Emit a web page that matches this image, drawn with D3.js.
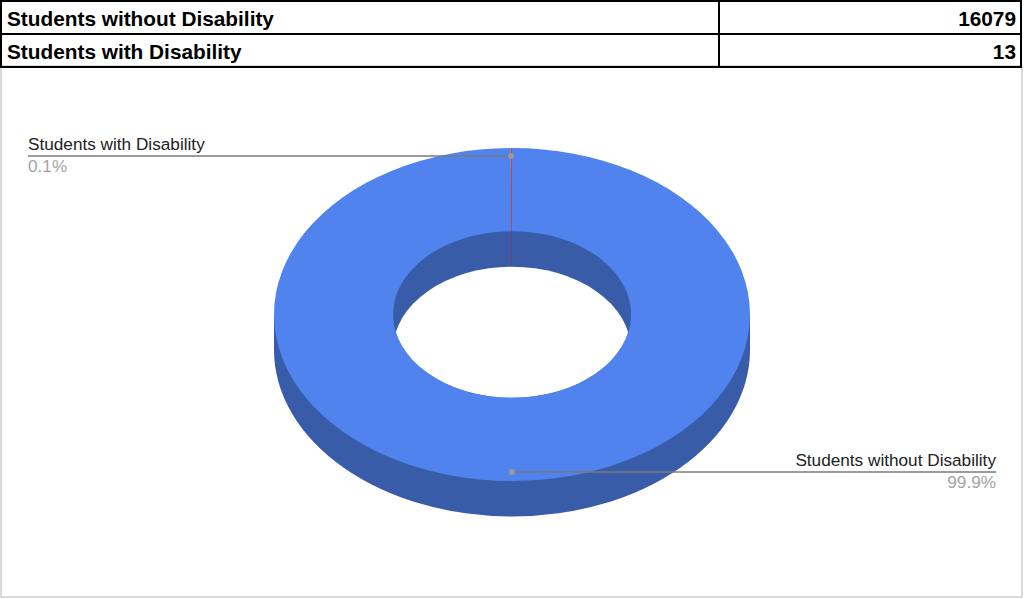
<!DOCTYPE html>
<html><head><meta charset="utf-8">
<script src="https://cdn.jsdelivr.net/npm/d3@7"></script>
<style>html,body{margin:0;padding:0;background:#fff}svg{display:block;font-family:"Liberation Sans",Arial,sans-serif}</style>
</head><body><svg id="c" width="1024" height="599"></svg>
<script>
const categories = ["Students without Disability", "Students with Disability"];
const values = [16079, 13];
const sliceColors = ["#5083ee", "#d0453a"];
const wallColors = ["#395ca8", "#8c3a40"];

const svg = d3.select("#c");
const cx = 512, cy = 314.5, rx = 238, rxInner = 119, squash = 166.5 / 238, depth = 35.5;

// chart frame
svg.append("rect").attr("x", 1).attr("y", 66).attr("width", 1021).attr("height", 531)
  .attr("fill", "#fff").attr("stroke", "#b5b5b5").attr("stroke-width", 1);

// pie layout
const pie = d3.pie().sort(null).startAngle(0).endAngle(2 * Math.PI);
const arcs = pie(values);
const total = d3.sum(values);
const ring = d3.arc().innerRadius(rxInner).outerRadius(rx);
const disc = d3.arc().innerRadius(0).outerRadius(rx).startAngle(0).endAngle(2 * Math.PI);
const holeArc = d3.arc().innerRadius(0).outerRadius(rxInner).startAngle(0).endAngle(2 * Math.PI);
const place = dy => `translate(${cx},${cy + dy}) scale(1,${squash})`;

const defs = svg.append("defs");
defs.append("clipPath").attr("id", "holeClip").append("path").attr("d", holeArc()).attr("transform", place(0));

// walls
svg.append("rect").attr("x", cx - rx).attr("y", cy).attr("width", 2 * rx).attr("height", depth).attr("fill", wallColors[0]);
svg.append("path").attr("d", disc()).attr("transform", place(depth)).attr("fill", wallColors[0]);
// see-through part of the hole
svg.append("g").attr("clip-path", "url(#holeClip)")
  .append("path").attr("d", holeArc()).attr("transform", place(depth)).attr("fill", "#fff");
// thin slice on the inner wall
const pt = (r, a, dy) => [cx + r * Math.sin(a), cy - r * Math.cos(a) * squash + dy];
const small = arcs[1];
svg.append("path")
  .attr("d", d3.line()([pt(rxInner, small.startAngle, 0), pt(rxInner, small.endAngle, 0), pt(rxInner, small.endAngle, depth), pt(rxInner, small.startAngle, depth)]) + "Z")
  .attr("fill", wallColors[1]);

// top face
svg.selectAll("path.slice").data(arcs).join("path").attr("class", "slice")
  .attr("d", ring).attr("transform", place(0)).attr("fill", (d, i) => sliceColors[i]);

// leaders and labels
const fmt = d3.format(".1f");
const leaders = [
  { i: 1, x0: 28, x1: 511, y: 156, anchor: "start" },
  { i: 0, x0: 512, x1: 996, y: 472, anchor: "end" }
];
leaders.forEach(l => {
  svg.append("line").attr("x1", l.x0).attr("x2", l.x1).attr("y1", l.y).attr("y2", l.y)
    .attr("stroke", "#7a7a7a").attr("stroke-width", 1.3);
  const dotX = l.anchor === "start" ? l.x1 : l.x0;
  svg.append("circle").attr("cx", dotX).attr("cy", l.y).attr("r", 3).attr("fill", "#9a9a9a");
  const tx = l.anchor === "start" ? l.x0 : l.x1;
  svg.append("text").attr("x", tx).attr("y", l.y - 6).attr("text-anchor", l.anchor)
    .attr("font-size", 17.2).attr("fill", "#222").text(categories[l.i]);
  svg.append("text").attr("x", tx).attr("y", l.y + 16).attr("text-anchor", l.anchor)
    .attr("font-size", 17.2).attr("fill", "#a3a3a3").text(fmt(values[l.i] / total * 100) + "%");
});

// table
const rowY = d3.scaleLinear().domain([0, 2]).range([1, 67]);
const table = svg.append("g");
categories.forEach((c, i) => {
  table.append("text").attr("x", 7).attr("y", rowY(i) + 25).attr("font-size", 20.8).attr("font-weight", 700).attr("fill", "#000").text(c);
  table.append("text").attr("x", 1016).attr("y", rowY(i) + 25).attr("text-anchor", "end").attr("font-size", 20.8).attr("font-weight", 700).attr("fill", "#000").text(values[i]);
});
d3.range(3).forEach(i => table.append("line").attr("x1", 0).attr("x2", 1022).attr("y1", rowY(i)).attr("y2", rowY(i)).attr("stroke", "#000").attr("stroke-width", 2));
[1, 719, 1021].forEach(x => table.append("line").attr("x1", x).attr("x2", x).attr("y1", 0).attr("y2", 68).attr("stroke", "#000").attr("stroke-width", 2));
</script></body></html>
